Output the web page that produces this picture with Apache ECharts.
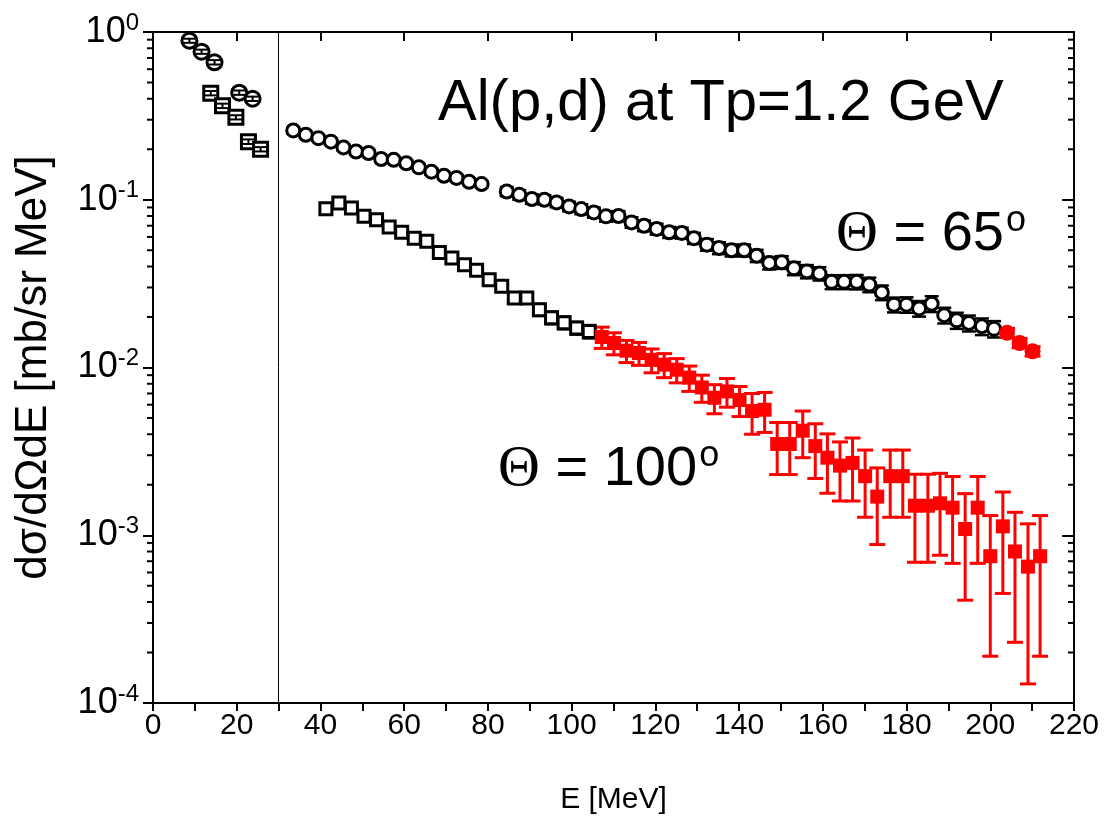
<!DOCTYPE html>
<html>
<head>
<meta charset="utf-8">
<script src="https://cdn.jsdelivr.net/npm/echarts@6/dist/echarts.min.js"></script>
<style>
  html, body { margin: 0; background: #fff; }
  #main { width: 1109px; height: 825px; }
</style>
</head>
<body>
<div id="main"></div>
<script>
// low energy points (crossed symbols)
const lowCircE = [8.7, 11.6, 14.7, 20.6, 23.8]
const lowCircV = [0.887, 0.763, 0.66, 0.435, 0.40]
const lowSqE = [13.8, 16.6, 19.8, 22.8, 25.7]
const lowSqV = [0.432, 0.363, 0.31, 0.222, 0.20]

// theta = 65 deg, open circles
const e65 = [33.5, 36.5, 39.5, 42.5, 45.5, 48.5, 51.5, 54.5, 57.5, 60.5, 63.5, 66.5, 69.5, 72.5, 75.5, 78.5,
  84.5, 87.5, 90.5, 93.5, 96.4, 99.4, 102.3, 105.3, 108.2, 111.2, 114.3, 117.3, 120.3, 123.3, 126.3, 129.2,
  132.3, 135.2, 138.2, 141.2, 144.2, 147.2, 150.2, 153.1, 156.2, 159.2, 162.1, 165.1, 168.1, 171.1, 174.1,
  177.0, 180.0, 183.0, 186.0, 189.0, 192.0, 194.9, 198.0, 200.9]
const v65 = [0.259, 0.244, 0.233, 0.222, 0.205, 0.194, 0.19, 0.175, 0.173, 0.165, 0.156, 0.147, 0.139, 0.135, 0.128, 0.124,
  0.112, 0.107, 0.101, 0.100, 0.0964, 0.0912, 0.088, 0.084, 0.0796, 0.080, 0.0733, 0.070, 0.067, 0.064, 0.0634, 0.059,
  0.054, 0.0516, 0.050, 0.050, 0.0464, 0.042, 0.0424, 0.039, 0.0374, 0.0363, 0.0324, 0.0324, 0.0324, 0.0312, 0.028,
  0.0237, 0.0237, 0.0225, 0.024, 0.0205, 0.0191, 0.0184, 0.0176, 0.017]
const err65 = [0.010, 0.010, 0.009, 0.009, 0.008, 0.008, 0.008, 0.007, 0.007, 0.007, 0.006, 0.006, 0.006, 0.006, 0.005, 0.005,
  0.007, 0.007, 0.0065, 0.0065, 0.0062, 0.006, 0.006, 0.0058, 0.0056, 0.0056, 0.0053, 0.0051, 0.005, 0.0048, 0.0048, 0.0045,
  0.0043, 0.0042, 0.0041, 0.0041, 0.0039, 0.0036, 0.0037, 0.0035, 0.0034, 0.0033, 0.0031, 0.0031, 0.0032, 0.0031, 0.0028,
  0.0024, 0.0025, 0.0024, 0.0026, 0.0022, 0.0021, 0.002, 0.002, 0.0019]
// theta = 65 deg, red filled circles
const e65r = [204.0, 207.0, 210.1]
const v65r = [0.0161, 0.014, 0.0125]
const err65r = [0.001, 0.0009, 0.0008]

// theta = 100 deg, open squares
const e100 = [41.3, 44.4, 47.4, 50.4, 53.4, 56.4, 59.4, 62.4, 65.4, 68.4, 71.4, 74.4, 77.3, 80.3, 83.3, 86.3,
  89.3, 92.3, 95.2, 98.2, 101.2, 104.2]
const v100 = [0.0884, 0.0955, 0.0893, 0.0796, 0.076, 0.0688, 0.064, 0.059, 0.0565, 0.0485, 0.045, 0.041, 0.038, 0.0334,
  0.0305, 0.026, 0.026, 0.0221, 0.0198, 0.0185, 0.0172, 0.0164]
const err100 = [0.004, 0.004, 0.004, 0.0035, 0.0035, 0.0032, 0.003, 0.003, 0.003, 0.0027, 0.0026, 0.0025, 0.0025, 0.0023,
  0.0022, 0.002, 0.002, 0.0018, 0.0017, 0.0016, 0.0015, 0.0015]
// theta = 100 deg, red filled squares
const e100r = [107.2, 110.1, 113.1, 116.1, 119.1, 122.1, 125.1, 128.1, 131.1, 134.1, 137.1, 140.1, 143.1, 146.1, 149.1,
  152.1, 155.2, 158.2, 161.1, 164.1, 167.1, 170.1, 173.0, 176.1, 179.1, 182.0, 185.1, 188.0, 191.0, 194.0, 197.0, 200.0,
  203.0, 205.9, 209.0, 211.9]
const v100r = [0.0152, 0.014, 0.0126, 0.0122, 0.0111, 0.0104, 0.0097, 0.0087, 0.0076, 0.0066, 0.0072, 0.0064, 0.0055,
  0.0056, 0.0035, 0.0035, 0.0042, 0.0034, 0.0029, 0.0026, 0.0027, 0.00225, 0.0017, 0.00225, 0.00225, 0.0015, 0.0015,
  0.00155, 0.00146, 0.00109, 0.00146, 0.00075, 0.00113, 0.0008, 0.00065, 0.00075]
const err100r = [0.0022, 0.0021, 0.0019, 0.0019, 0.0018, 0.0017, 0.0016, 0.0015, 0.0014, 0.0013, 0.0014, 0.0013, 0.0015,
  0.0015, 0.0012, 0.0012, 0.0013, 0.00122, 0.00112, 0.001, 0.0011, 0.00097, 0.00082, 0.00097, 0.00097, 0.00081, 0.00081,
  0.00079, 0.00078, 0.00068, 0.00078, 0.00056, 0.00068, 0.00057, 0.00052, 0.00056]
const errLow = [0.025, 0.022, 0.02, 0.013, 0.012, 0.013, 0.011, 0.009, 0.007, 0.006]

// minor tick values on the log axis
const yMinor = [2e-4, 3e-4, 4e-4, 5e-4, 6e-4, 7e-4, 8e-4, 9e-4,
  2e-3, 3e-3, 4e-3, 5e-3, 6e-3, 7e-3, 8e-3, 9e-3,
  2e-2, 3e-2, 4e-2, 5e-2, 6e-2, 7e-2, 8e-2, 9e-2,
  0.2, 0.3, 0.4, 0.5, 0.6, 0.7, 0.8, 0.9]

const FONT = '"Liberation Sans", Arial, sans-serif'

function pts(xs, ys) {
  return xs.map((x, i) => [x, ys[i]])
}
function bars(xs, ys, es) {
  return xs.map((x, i) => [x, ys[i] - es[i], ys[i] + es[i]])
}

// error bar with caps
function errRender(capW, color, lw) {
  return function (params, api) {
    const x = api.value(0)
    const lo = api.coord([x, api.value(1)])
    const hi = api.coord([x, api.value(2)])
    const h = capW / 2
    const st = { stroke: color, lineWidth: lw }
    return {
      type: 'group',
      children: [
        { type: 'line', shape: { x1: lo[0], y1: lo[1], x2: hi[0], y2: hi[1] }, style: st },
        { type: 'line', shape: { x1: lo[0] - h, y1: lo[1], x2: lo[0] + h, y2: lo[1] }, style: st },
        { type: 'line', shape: { x1: hi[0] - h, y1: hi[1], x2: hi[0] + h, y2: hi[1] }, style: st },
      ],
    }
  }
}

function minorRender(params, api) {
  const cs = params.coordSys
  const y = api.coord([0, api.value(0)])[1]
  const st = { stroke: '#000', lineWidth: 2 }
  return {
    type: 'group',
    children: [
      { type: 'line', shape: { x1: cs.x - 6, y1: y, x2: cs.x, y2: y }, style: st },
      { type: 'line', shape: { x1: cs.x + cs.width - 6, y1: y, x2: cs.x + cs.width, y2: y }, style: st },
    ],
  }
}

const chart = echarts.init(document.getElementById('main'))

const yLabel = {
  fontFamily: FONT,
  color: '#000',
  margin: 14,
  formatter: (v) => '{b|10}{s|' + Math.round(Math.log10(v)) + '}',
  rich: {
    b: { fontSize: 36, fontFamily: FONT, color: '#000' },
    s: { fontSize: 24, fontFamily: FONT, color: '#000', padding: [0, 0, 18, 0] },
  },
}

const thetaRich = {
  g: { font: '58px "Liberation Serif", serif', fill: '#000' },
  n: { font: '56px ' + FONT, fill: '#000' },
  s: { font: '36px ' + FONT, fill: '#000', padding: [0, 0, 28, 2] },
}

const openStyle = { color: '#fff', borderColor: '#000', borderWidth: 3, opacity: 1 }

const option = {
  animation: false,
  backgroundColor: '#fff',
  grid: { left: 153, right: 35, top: 32, bottom: 122 },
  xAxis: [
    {
      type: 'value',
      min: 0,
      max: 220,
      interval: 10,
      name: 'E [MeV]',
      nameLocation: 'middle',
      nameGap: 82,
      nameTextStyle: { fontSize: 30, fontFamily: FONT, color: '#000' },
      axisLine: { onZero: false, lineStyle: { color: '#000', width: 2 } },
      axisTick: { inside: false, length: 8, lineStyle: { width: 2 } },
      axisLabel: {
        fontSize: 30,
        fontFamily: FONT,
        color: '#000',
        margin: 8,
        formatter: (v) => (v % 20 === 0 ? v : ''),
      },
      splitLine: { show: false },
    },
    {
      type: 'value',
      position: 'top',
      min: 0,
      max: 220,
      interval: 20,
      axisLine: { onZero: false, lineStyle: { color: '#000', width: 2 } },
      axisTick: { inside: true, length: 9, lineStyle: { width: 2 } },
      axisLabel: { show: false },
      splitLine: { show: false },
    },
  ],
  yAxis: [
    {
      type: 'log',
      logBase: 10,
      min: 1e-4,
      max: 1,
      name: 'dσ/dΩdE [mb/sr MeV]',
      nameLocation: 'middle',
      nameGap: 97,
      nameTextStyle: { fontSize: 44, fontFamily: FONT, color: '#000' },
      axisLine: { onZero: false, lineStyle: { color: '#000', width: 2 } },
      axisTick: { inside: false, length: 10, lineStyle: { width: 2 } },
      axisLabel: yLabel,
      splitLine: { show: false },
    },
    {
      type: 'log',
      logBase: 10,
      min: 1e-4,
      max: 1,
      position: 'right',
      axisLine: { onZero: false, lineStyle: { color: '#000', width: 2 } },
      axisTick: { inside: true, length: 12, lineStyle: { width: 2 } },
      axisLabel: { show: false },
      splitLine: { show: false },
    },
  ],
  graphic: [
    {
      type: 'text',
      left: 438,
      top: 75,
      style: { text: 'Al(p,d) at Tp=1.2 GeV', font: '58px ' + FONT, fill: '#000' },
    },
    {
      type: 'text',
      left: 836,
      top: 203,
      style: { text: '{g|Θ}{n| = 65}{s|o}', rich: thetaRich },
    },
    {
      type: 'text',
      left: 498,
      top: 438,
      style: { text: '{g|Θ}{n| = 100}{s|o}', rich: thetaRich },
    },
  ],
  series: [
    {
      type: 'custom',
      name: 'minor',
      renderItem: minorRender,
      data: yMinor.map((v) => [v]),
      encode: { y: 0 },
      clip: false,
      silent: true,
      z: 1,
    },
    {
      type: 'custom',
      renderItem: errRender(14, '#000', 2.5),
      data: bars(e65, v65, err65),
      encode: { x: 0, y: [1, 2] },
      z: 2,
    },
    {
      type: 'custom',
      renderItem: errRender(14, '#000', 2.5),
      data: bars(e100, v100, err100),
      encode: { x: 0, y: [1, 2] },
      z: 2,
    },
    {
      type: 'custom',
      renderItem: errRender(16, '#ff0000', 3),
      data: bars(e100r, v100r, err100r),
      encode: { x: 0, y: [1, 2] },
      z: 2,
    },
    {
      type: 'custom',
      renderItem: errRender(16, '#ff0000', 3),
      data: bars(e65r, v65r, err65r),
      encode: { x: 0, y: [1, 2] },
      z: 2,
    },
    {
      type: 'scatter',
      data: pts(e65, v65),
      symbol: 'circle',
      symbolSize: 13,
      itemStyle: openStyle,
      z: 3,
    },
    {
      type: 'scatter',
      data: pts(e100, v100),
      symbol: 'rect',
      symbolSize: 12,
      itemStyle: openStyle,
      z: 3,
    },
    {
      type: 'scatter',
      data: pts(e100r, v100r),
      symbol: 'rect',
      symbolSize: 14,
      itemStyle: { color: '#ff0000', opacity: 1 },
      z: 4,
    },
    {
      type: 'scatter',
      data: pts(e65r, v65r),
      symbol: 'circle',
      symbolSize: 16,
      itemStyle: { color: '#ff0000', opacity: 1 },
      z: 4,
    },
    {
      type: 'scatter',
      data: pts(lowCircE, lowCircV),
      symbol: 'circle',
      symbolSize: 15,
      itemStyle: openStyle,
      z: 3,
      markLine: {
        silent: true,
        symbol: 'none',
        label: { show: false },
        lineStyle: { color: '#000', width: 1, type: 'solid' },
        data: [{ xAxis: 30 }],
      },
    },
    {
      type: 'scatter',
      data: pts(lowSqE, lowSqV),
      symbol: 'rect',
      symbolSize: 14,
      itemStyle: openStyle,
      z: 3,
    },
    {
      type: 'custom',
      renderItem: errRender(12, '#000', 2),
      data: bars(lowCircE.concat(lowSqE), lowCircV.concat(lowSqV), errLow),
      encode: { x: 0, y: [1, 2] },
      z: 5,
    },
  ],
}

chart.setOption(option)
</script>
</body>
</html>
